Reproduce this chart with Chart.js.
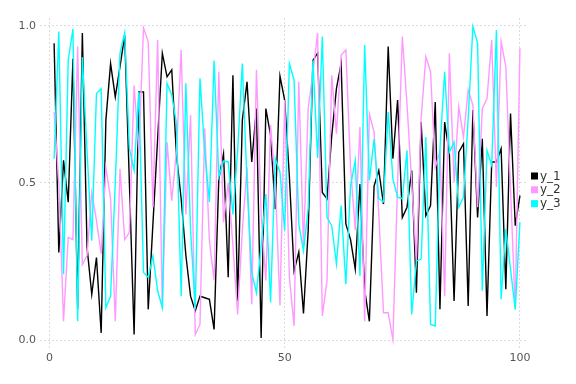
<!DOCTYPE html>
<html>
<head>
<meta charset="utf-8">
<script src="https://cdn.jsdelivr.net/npm/chart.js@4/dist/chart.umd.min.js"></script>
<style>
html,body{margin:0;padding:0;background:#fff;}
#wrap{width:576px;height:384px;position:relative;}
</style>
</head>
<body>
<div id="wrap"><canvas id="c" width="576" height="384"></canvas></div>
<script>
const xs = Array.from({length: 100}, (_, i) => i + 1);
const seriesNames = ["y_1", "y_2", "y_3"];
const xTicks = [0, 50, 100];
const yTicks = [0, 0.5, 1.0];

const y1 = [0.945,0.279,0.572,0.439,0.895,0.10,0.977,0.295,0.146,0.263,
0.023,0.70,0.88,0.774,0.87,0.97,0.50,0.018,0.79,0.79,
0.098,0.37,0.64,0.913,0.838,0.86,0.59,0.45,0.27,0.14,
0.093,0.14,0.135,0.13,0.034,0.513,0.593,0.20,0.843,0.125,
0.70,0.822,0.567,0.737,0.007,0.737,0.652,0.417,0.84,0.764,
0.52,0.22,0.28,0.085,0.35,0.89,0.913,0.47,0.45,0.65,
0.80,0.88,0.37,0.32,0.226,0.497,0.16,0.06,0.49,0.54,
0.433,0.934,0.577,0.764,0.39,0.423,0.54,0.151,0.694,0.396,
0.428,0.758,0.098,0.694,0.593,0.125,0.598,0.625,0.109,0.732,
0.39,0.641,0.077,0.567,0.567,0.609,0.162,0.721,0.364,0.46];

const y2 = [0.726,0.5,0.06,0.327,0.32,0.934,0.24,0.27,0.47,0.38,
0.275,0.55,0.45,0.06,0.545,0.32,0.343,0.81,0.6,0.993,
0.95,0.423,0.955,0.1,0.63,0.444,0.6,0.923,0.4,0.716,
0.018,0.05,0.673,0.316,0.19,0.854,0.375,0.5,0.3,0.082,
0.35,0.55,0.114,0.86,0.4,0.19,0.684,0.5,0.11,0.764,
0.2,0.045,0.822,0.3,0.737,0.85,0.977,0.077,0.19,0.843,
0.657,0.907,0.923,0.55,0.35,0.678,0.06,0.72,0.662,0.4,
0.087,0.087,0.002,0.5,0.966,0.75,0.5,0.25,0.705,0.902,
0.854,0.55,0.6,0.14,0.913,0.503,0.742,0.646,0.796,0.748,
0.423,0.737,0.769,0.955,0.487,0.95,0.87,0.48,0.098,0.929];

const y3 = [0.577,0.982,0.21,0.89,0.99,0.06,0.9,0.6,0.316,0.785,
0.8,0.103,0.14,0.5,0.913,0.978,0.61,0.54,0.79,0.215,
0.2,0.268,0.157,0.103,0.817,0.78,0.689,0.14,0.817,0.35,
0.1,0.833,0.6,0.44,0.89,0.52,0.57,0.567,0.4,0.6,
0.88,0.5,0.215,0.151,0.3,0.465,0.12,0.577,0.535,0.348,
0.88,0.827,0.37,0.284,0.42,0.89,0.58,0.966,0.39,0.364,
0.242,0.428,0.178,0.492,0.572,0.204,0.939,0.508,0.64,0.45,
0.44,0.726,0.513,0.455,0.45,0.604,0.082,0.252,0.258,0.646,
0.05,0.045,0.609,0.854,0.598,0.63,0.423,0.455,0.705,0.998,
0.945,0.157,0.604,0.556,0.987,0.13,0.354,0.226,0.098,0.375];

const colors = ["#000000", "#ff99ff", "#00ffff"];
const values = [y1, y2, y3];

const datasets = values.map((v, k) => ({
  label: seriesNames[k],
  data: v.map((y, i) => ({x: xs[i], y: y})),
  borderColor: colors[k],
  backgroundColor: colors[k],
  borderWidth: 1.4,
  pointRadius: 0,
  tension: 0,
  fill: false,
  order: 3 - k
}));

const legendPlugin = {
  id: 'sideLegend',
  afterDraw(chart) {
    const ctx = chart.ctx;
    ctx.save();
    ctx.font = '12px "DejaVu Sans"';
    ctx.textBaseline = 'middle';
    chart.data.datasets.forEach((ds, k) => {
      const yc = 176 + k * 13.8;
      ctx.fillStyle = ds.borderColor;
      ctx.fillRect(531, yc - 3.5, 7, 7);
      ctx.fillStyle = '#333333';
      ctx.fillText(ds.label, 540, yc + 0.5);
    });
    ctx.restore();
  }
};

const gridCfg = {
  color: 'rgba(150,150,180,0.35)',
  lineWidth: 1,
  drawTicks: false,
  tickBorderDash: [2, 2]
};

new Chart(document.getElementById('c'), {
  type: 'line',
  data: { datasets: datasets },
  options: {
    responsive: false,
    animation: false,
    devicePixelRatio: 1,
    layout: { padding: { left: 0, right: 49, top: 18, bottom: 0 } },
    plugins: { legend: { display: false }, tooltip: { enabled: false } },
    scales: {
      x: {
        type: 'linear',
        min: -2,
        max: 101.5,
        afterBuildTicks: (s) => { s.ticks = xTicks.map(v => ({value: v})); },
        afterFit: (s) => { s.height = 36; },
        grid: Object.assign({}, gridCfg),
        border: { display: false, dash: [2, 2] },
        ticks: {
          color: '#555555',
          font: { family: 'DejaVu Sans', size: 11 },
          padding: 4,
          maxRotation: 0,
          callback: (v) => String(v)
        }
      },
      y: {
        type: 'linear',
        min: -0.025,
        max: 1.025,
        afterBuildTicks: (s) => { s.ticks = yTicks.map(v => ({value: v})); },
        afterFit: (s) => { s.width = 40; },
        grid: Object.assign({}, gridCfg),
        border: { display: false, dash: [2, 2] },
        ticks: {
          color: '#555555',
          font: { family: 'DejaVu Sans', size: 11 },
          padding: 4,
          callback: (v) => Number(v).toFixed(1)
        }
      }
    }
  },
  plugins: [legendPlugin]
});
</script>
</body>
</html>
